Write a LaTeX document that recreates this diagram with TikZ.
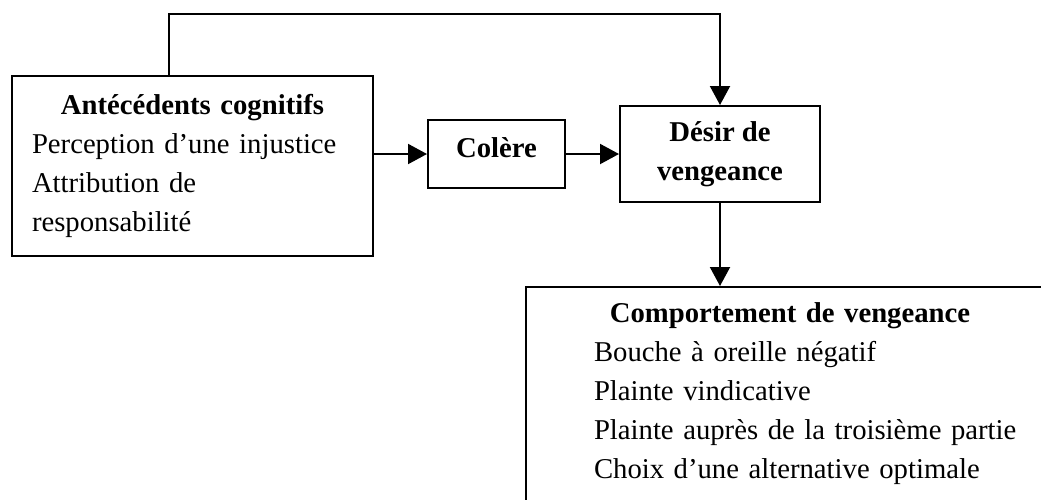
\documentclass[tikz,border=0pt]{standalone}
\usepackage{fontspec}
\setmainfont{Liberation Serif}
\usepackage{tikz}
\usetikzlibrary{positioning,arrows.meta,calc}

\begin{document}
\begin{tikzpicture}[
  x=1pt, y=-1pt,
  font=\fontsize{28.7}{39}\selectfont,
  box/.style={draw, line width=2pt, inner sep=0pt, align=center},
  arrow/.style={-{Triangle[length=19pt,width=20pt]}, line width=2pt}
]
\clip (0,0) rectangle (1041,499);

\node[box, minimum width=361pt, minimum height=180pt, text width=321pt, align=left] (ante) at (192.5,166)
  {\makebox[\linewidth]{\textbf{Antécédents cognitifs}}\\
   Perception d’une injustice\\
   Attribution de\\
   responsabilité};
\node[box, minimum width=137pt, minimum height=68pt, text height=20pt, text depth=14pt,
  right=53pt of ante.east, yshift=12pt] (colere) {\textbf{Colère}};
\node[box, minimum width=200pt, minimum height=96pt, right=53pt of colere] (desir)
  {\textbf{Désir de}\\\textbf{vengeance}};
\node[box, anchor=north west, text width=430pt, align=left, inner xsep=68pt, inner ysep=16pt,
  text depth=200pt] (comp) at (525,286)
  {\makebox[392pt][c]{\textbf{Comportement de vengeance}}\\
   Bouche à oreille négatif\\
   Plainte vindicative\\
   Plainte auprès de la troisième partie\\
   Choix d’une alternative optimale};

\draw[arrow] (ante.east |- colere.west) -- (colere.west);
\draw[arrow] (colere.east) -- (desir.west);
\draw[arrow] ([xshift=-23.5pt]ante.north) -- ++(0,-61) -| (desir.north);
\draw[arrow] (desir.south) -- (desir.south |- comp.north);
\end{tikzpicture}
\end{document}
